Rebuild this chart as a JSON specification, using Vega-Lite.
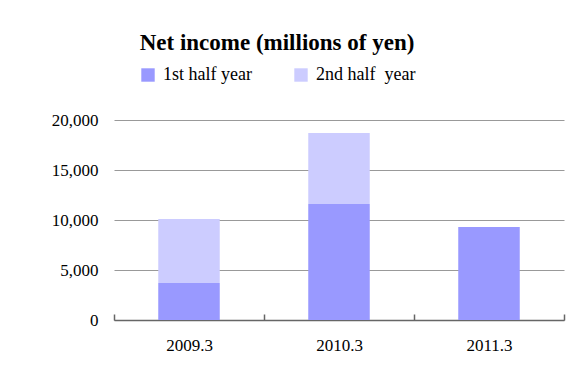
{
  "$schema": "https://vega.github.io/schema/vega-lite/v6.json",
  "width": 450,
  "height": 200,
  "autosize": "none",
  "padding": {"left": 114, "top": 120, "right": 22, "bottom": 47},
  "background": "white",
  "title": {
    "text": "Net income (millions of yen)",
    "font": "Liberation Serif",
    "fontSize": 23,
    "fontWeight": "bold",
    "color": "#000000",
    "anchor": "middle",
    "dx": -62,
    "offset": 11
  },
  "data": {
    "values": [
      {"period": "2009.3", "half": "1st half year", "order": 1, "value": 3700},
      {"period": "2009.3", "half": "2nd half\u00a0 year", "order": 2, "value": 6400},
      {"period": "2010.3", "half": "1st half year", "order": 1, "value": 11600},
      {"period": "2010.3", "half": "2nd half\u00a0 year", "order": 2, "value": 7100},
      {"period": "2011.3", "half": "1st half year", "order": 1, "value": 9300}
    ]
  },
  "mark": {"type": "bar", "width": {"band": 0.41}},
  "encoding": {
    "x": {
      "field": "period",
      "type": "nominal",
      "scale": {"paddingInner": 0, "paddingOuter": 0},
      "axis": {
        "title": null,
        "labelAngle": 0,
        "labelPadding": 23,
        "labelFont": "Liberation Serif",
        "domainColor": "#666666",
        "domainWidth": 1.5,
        "ticks": true,
        "tickColor": "#666666",
        "tickWidth": 1.5,
        "tickSize": -6,
        "tickBand": "extent",
        "grid": false
      }
    },
    "y": {
      "field": "value",
      "type": "quantitative",
      "stack": "zero",
      "scale": {"domain": [0, 20000]},
      "axis": {
        "title": null,
        "values": [0, 5000, 10000, 15000, 20000],
        "format": ",d",
        "labelPadding": 16,
        "labelFont": "Liberation Serif",
        "domain": false,
        "ticks": false,
        "grid": true,
        "gridColor": "#999999",
        "gridWidth": 1
      }
    },
    "color": {
      "field": "half",
      "type": "nominal",
      "scale": {"domain": ["1st half year", "2nd half\u00a0 year"], "range": ["#9999ff", "#ccccff"]},
      "legend": {
        "title": null,
        "orient": "none",
        "legendX": 25,
        "legendY": -54,
        "direction": "horizontal",
        "symbolType": "square",
        "symbolSize": 180,
        "symbolStrokeWidth": 0,
        "symbolOpacity": 1,
        "labelFont": "Liberation Serif",
        "labelFontSize": 18,
        "labelColor": "#000000",
        "labelOffset": 6,
        "columnPadding": 40
      }
    },
    "order": {"field": "order", "type": "quantitative"}
  },
  "config": {
    "view": {"stroke": null},
    "axis": {
      "labelFontSize": 17,
      "labelColor": "#000000"
    }
  }
}
